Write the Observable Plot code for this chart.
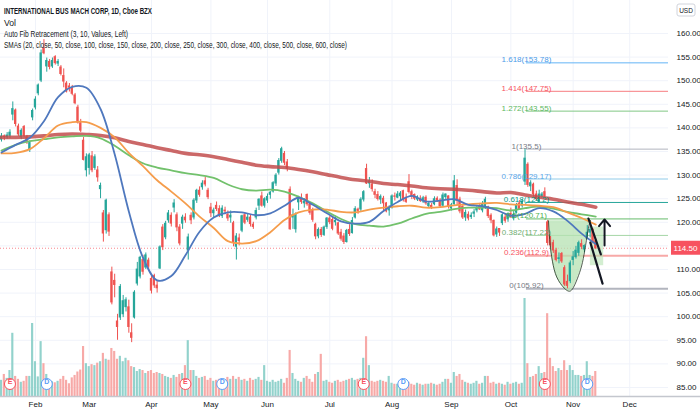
<!DOCTYPE html>
<html><head><meta charset="utf-8">
<script src="https://cdn.jsdelivr.net/npm/d3@7"></script>
<script src="https://cdn.jsdelivr.net/npm/@observablehq/plot@0.6"></script>
<style>
html,body{margin:0;padding:0;background:#fff;}
#chart{position:relative;width:700px;height:413px;overflow:hidden;}
#chart svg{position:absolute;left:0;top:0;}
</style></head><body><div id="chart"></div>
<script>
// ---- daily candles, trading-day index 0 = 2020-01-15 ----
const open = [137.5,138.2,138.0,138.3,142.8,143.7,140.3,138.0,140.2,138.0,135.4,142.2,144.3,147.3,150.0,156.8,153.0,154.0,153.0,155.0,153.6,152.8,151.0,149.4,148.8,148.4,146.9,144.3,141.0,137.3,
131.0,131.5,134.0,131.5,131.0,127.0,121.9,118.3,121.5,109.4,107.6,99.0,99.8,100.5,102.0,102.0,96.5,99.8,107.0,108.5,112.0,110.4,111.9,108.0,108.6,106.6,110.2,118.9,116.8,120.4,
121.4,123.1,121.5,118.9,119.7,121.0,114.0,121.4,121.0,124.6,126.7,127.4,128.7,126.7,123.1,121.9,123.5,122.8,121.3,122.5,121.6,121.0,119.8,114.8,116.6,118.2,121.5,120.5,121.0,119.5,
121.0,123.5,125.5,123.5,124.6,125.8,126.5,128.2,130.5,133.0,134.5,132.7,126.9,121.0,118.5,124.2,125.1,124.0,125.8,123.8,122.5,119.5,117.0,118.4,117.3,119.0,120.8,120.5,120.0,119.8,
117.8,117.0,115.8,118.4,117.7,121.0,122.7,122.7,124.8,131.3,128.2,128.0,126.4,125.8,124.8,125.0,124.0,122.5,123.1,125.5,125.2,125.5,126.6,125.2,128.5,126.4,125.8,124.8,125.0,124.4,
125.2,123.4,123.5,123.8,125.0,124.6,123.5,125.3,125.5,122.9,123.8,127.7,124.8,123.3,121.0,121.6,121.1,121.8,122.5,123.3,122.5,123.4,123.2,121.4,120.3,117.4,118.6,119.8,121.0,120.6,
121.8,120.8,122.0,124.0,123.5,128.6,132.2,127.6,128.0,125.9,124.3,125.5,126.4,120.0,116.8,115.6,114.0,112.2,113.3,110.3,107.4,107.5,112.0,112.6,113.5,115.4,114.2,116.5,117.8,118.4,116.0];
const high = [138.8,138.5,139.0,139.6,145.5,144.0,140.8,139.8,140.5,138.4,137.2,144.0,146.6,149.3,156.5,158.7,154.8,154.5,154.8,155.3,154.5,153.2,152.5,149.8,149.4,149.0,147.3,144.8,141.8,138.0,
134.5,134.6,135.0,134.3,131.8,128.3,122.5,124.9,122.0,110.5,109.0,100.5,106.8,104.5,104.0,103.5,98.5,105.5,111.5,112.8,113.0,113.5,112.4,108.5,109.0,107.5,115.0,119.5,120.2,122.5,
122.0,124.8,122.0,119.5,121.5,121.8,117.5,122.0,125.0,127.0,127.5,128.8,129.5,127.2,124.0,123.0,124.3,123.5,123.5,123.2,122.4,122.4,120.2,117.6,117.5,121.5,121.9,121.8,121.5,120.0,
123.0,125.0,126.4,125.2,126.0,126.5,128.6,130.3,133.5,135.9,135.0,133.3,127.5,122.8,122.0,125.5,126.0,125.0,126.0,124.0,123.0,119.8,118.8,118.9,119.2,121.0,121.2,121.3,121.3,120.0,
118.5,117.6,118.5,119.5,121.0,123.3,123.0,125.2,126.7,132.3,129.5,129.0,127.0,126.5,125.8,125.5,124.2,123.5,125.8,126.2,126.5,126.5,126.8,126.0,130.1,126.8,126.0,125.6,125.6,125.5,
125.6,124.4,124.0,125.4,125.4,125.0,126.2,126.0,125.6,124.0,129.9,129.0,125.3,123.5,122.6,122.2,122.0,122.7,123.5,124.0,124.4,125.3,123.4,121.8,120.5,119.0,118.6,121.8,121.7,122.0,
123.0,122.4,124.0,124.6,124.8,135.5,132.6,128.8,128.3,126.6,126.8,126.3,127.3,120.4,117.0,116.2,114.5,113.5,113.6,110.8,108.8,111.8,113.8,114.9,116.0,116.3,115.2,119.3,119.0,118.6,116.4];
const low = [137.0,137.3,137.6,137.8,141.5,140.2,138.2,137.5,137.9,136.5,134.8,141.5,143.8,146.8,149.6,155.5,151.8,152.3,152.6,153.3,153.0,151.0,148.5,147.4,147.6,146.8,144.9,140.8,139.0,133.0,
129.6,130.0,130.5,131.0,128.5,125.0,115.8,117.5,117.0,102.5,104.0,95.0,99.2,99.8,101.0,96.5,94.5,99.5,106.5,108.0,108.8,110.0,109.8,104.8,106.0,105.0,110.0,114.0,116.3,119.8,
119.0,122.0,118.0,115.0,118.5,119.8,112.0,119.5,120.5,124.0,125.3,126.8,127.5,124.8,121.0,120.8,122.3,121.0,120.8,121.6,120.2,119.8,114.8,112.0,115.0,117.8,119.5,120.0,119.0,118.5,
120.5,122.5,123.2,123.0,124.0,124.9,126.2,127.6,130.0,132.5,132.0,130.7,118.3,118.5,117.7,122.5,123.8,123.0,123.4,121.5,120.0,116.3,116.5,116.8,117.0,118.5,119.5,118.2,119.2,117.2,
116.0,115.3,115.6,117.0,117.5,120.7,121.7,122.3,124.3,128.0,127.2,126.4,125.0,124.5,123.8,122.4,122.0,121.3,122.8,124.5,125.0,124.5,124.3,124.0,126.0,124.8,124.6,124.4,124.2,124.0,
123.6,123.0,122.7,123.5,124.2,123.0,123.3,124.8,122.8,122.4,123.6,123.5,121.8,120.6,120.2,120.3,120.6,121.0,122.0,122.5,122.0,122.7,120.8,119.7,116.9,116.8,117.0,119.3,119.8,120.0,
120.8,120.3,121.8,122.5,123.0,127.8,127.4,126.5,125.3,124.5,124.0,125.0,125.1,115.0,114.7,113.4,111.6,111.2,111.3,106.4,105.92,107.0,110.8,112.2,112.8,114.2,113.6,116.3,116.7,115.4,114.2];
const close = [138.2,138.0,138.4,139.0,144.0,140.8,138.6,139.4,138.3,137.0,136.8,143.6,146.0,149.0,155.8,155.8,154.2,152.9,154.2,153.7,154.0,151.4,149.8,147.7,148.5,147.2,145.2,141.1,139.4,133.2,
133.8,134.2,131.0,133.8,129.5,127.7,117.6,124.6,118.0,103.0,106.7,97.8,106.3,103.3,103.5,97.8,95.5,105.1,110.0,112.5,109.5,113.0,110.6,105.5,106.6,106.0,114.7,114.7,119.7,121.9,
119.7,124.0,118.9,115.5,121.0,120.4,116.8,120.4,124.6,126.7,125.8,128.2,128.0,125.3,121.9,122.5,122.8,121.6,122.9,122.3,120.8,121.4,115.6,117.0,116.0,121.3,119.9,121.0,119.6,119.0,
122.4,124.8,123.5,124.9,125.4,126.3,128.3,129.9,133.0,135.5,132.6,131.3,118.5,121.5,121.6,125.0,124.3,124.4,123.8,122.0,120.5,117.0,118.4,117.3,118.9,120.8,120.0,118.6,120.3,117.6,
116.5,115.8,118.2,117.5,120.3,122.8,122.4,124.8,126.4,128.2,128.7,127.0,125.8,124.9,125.4,124.0,122.3,122.9,125.5,125.4,125.9,126.1,124.9,124.3,126.4,125.4,125.0,125.3,124.5,125.1,
124.0,123.9,123.2,124.9,124.6,123.4,125.7,125.9,123.3,123.6,128.7,124.5,122.3,121.0,122.0,120.8,121.4,122.1,123.0,122.7,123.9,124.8,121.3,120.4,117.2,118.5,117.8,121.5,120.3,121.7,
121.1,121.6,123.6,122.8,124.4,133.5,127.9,128.3,125.9,124.9,125.9,125.9,125.5,115.6,115.1,114.0,112.0,112.4,111.7,106.8,106.5,111.3,112.6,114.0,115.6,114.8,115.0,117.8,118.4,115.8,114.5];
// volume, millions of shares
const volume = [3.3,4.5,3.7,5.3,12.9,4.1,3.5,2.9,3.1,4.1,4.1,14.9,7.1,4.0,11.2,6.7,4.5,3.2,3.0,2.8,3.1,3.5,4.1,3.3,2.6,3.8,4.3,5.0,5.4,10.2,
6.7,6.1,6.5,6.3,6.8,7.1,8.8,7.6,7.4,9.8,9.2,7.6,8.2,7.1,7.8,7.3,6.1,5.9,5.1,5.5,5.3,4.7,5.1,5.3,4.7,4.9,4.7,4.5,4.1,3.9,
3.7,4.3,3.9,4.5,4.7,6.3,11.4,5.3,5.3,4.1,3.7,3.9,4.1,3.3,3.7,3.1,3.3,3.5,3.5,3.3,3.9,3.5,4.1,3.5,3.9,3.3,3.5,3.1,3.7,3.3,
3.5,3.9,3.3,6.3,3.1,2.9,3.3,2.9,3.1,3.5,2.7,3.7,9.4,4.7,3.5,3.1,2.9,3.7,4.1,3.5,2.9,4.5,4.9,8.6,3.1,3.3,2.9,2.7,3.1,3.3,
2.9,3.1,3.3,3.5,3.7,3.3,3.5,3.7,7.8,12.2,6.3,3.1,2.9,3.1,3.3,3.1,2.9,4.1,2.7,2.5,2.5,2.7,2.3,2.7,2.9,2.5,2.3,2.7,2.5,2.3,
2.5,2.5,2.7,2.5,2.3,2.5,2.9,3.5,3.5,2.7,4.9,4.1,4.5,3.3,2.9,2.7,2.5,2.7,3.1,2.5,2.7,4.1,4.1,2.7,2.9,2.5,2.7,2.5,2.3,2.9,
2.5,2.7,2.9,2.5,2.7,20.0,6.7,3.9,4.1,4.5,6.1,4.7,4.9,16.9,7.8,6.1,5.1,5.7,5.3,7.3,5.3,6.3,5.3,4.3,4.3,4.1,4.3,7.1,4.3,4.1,5.1];

const smaDays = [0,5,10,15,20,25,30,35,40,45,50,55,60,65,70,75,80,85,90,95,100,105,110,115,120,125,130,135,140,145,150,155,160,165,170,175,180,185,190,195,200,205,210];
const sma20 = [134.8,136.4,137.9,141.4,146.5,148.7,148.5,144.0,134.4,122.3,112.5,107.7,108.6,113.0,118.0,121.0,122.1,122.1,121.5,121.9,123.5,125.2,123.7,121.9,120.2,119.7,120.1,122.4,124.3,125.6,124.4,124.6,124.9,123.7,123.4,122.6,121.4,121.8,123.0,122.3,120.3,117.6,115.4];
const sma50 = [134.6,134.7,135.5,137.8,140.5,141.2,141.2,140.0,138.0,134.7,131.9,128.9,126.5,124.0,121.2,118.8,116.0,115.5,116.0,117.9,120.5,122.1,122.7,122.7,122.2,122.1,122.7,123.1,123.4,123.5,123.1,123.2,123.6,123.8,124.0,124.1,123.8,123.7,123.5,123.2,122.1,120.9,119.5];
const sma100 = [135.2,136.4,137.2,137.6,138.0,138.2,138.3,137.8,136.2,134.2,132.5,131.6,131.0,130.4,130.0,129.4,128.0,127.0,126.7,126.9,126.5,125.4,124.0,122.3,120.7,119.6,119.3,119.1,119.7,120.8,121.8,122.2,122.8,123.1,123.1,123.0,122.5,123.0,123.3,122.9,122.2,121.7,121.2];
const sma200 = [138.0,138.0,138.1,138.3,138.6,138.7,138.6,138.4,137.9,137.1,136.5,135.8,135.2,134.6,134.3,133.9,133.3,132.7,132.1,131.8,131.6,131.2,130.7,130.1,129.5,129.0,128.7,128.2,128.0,127.7,127.3,127.1,127.0,126.8,126.5,126.2,126.3,125.8,125.3,124.9,124.3,123.8,123.2];

// auto fib retracement
const fibRatio = ["1.618","1.414","1.272","1","0.786","0.618","0.5","0.382","0.236","0"];
const fibPrice = [153.78,147.75,143.55,135.5,129.17,124.2,120.71,117.22,112.9,105.92];
const fibLine = ["#64b5f6","#f77c80","#81c784","#b2b5be","#90cbe9","#26a69a","#66bb6a","#a5d6a7","#f7a9a7","#b2b5be"];
const fibText = ["#4c9be8","#f7525f","#5cb85f","#787b86","#5aa6e6","#089981","#4caf50","#6fae72","#f7525f","#787b86"];
const fibWidth = [1,1,1,1,1,1,1,1,2,2];
const fibStartDay = 185.5;

// earnings / dividends
const eventDay = [3,65,128,192,16,78,142,207];
const eventType = ["E","E","E","E","D","D","D","D"];

// axis labels
const priceTicks = [85,90,95,100,105,110,115,120,125,130,135,140,145,150,155,160];
const monthDays = [12,31,53,74,94,116,138,159,180,202,222];
const monthNames = ["Feb","Mar","Apr","May","Jun","Jul","Aug","Sep","Oct","Nov","Dec"];
const lastPrice = 114.50;

// drawings: cup arc, two trend strokes, up arrow
const cupDay = [193.3,193.9,195.0,196.8,200.0,202.1,203.9,205.3,206.4,207.4,208.1];
const cupPrice = [120.3,115.1,110.8,107.7,105.5,106.2,108.7,111.5,115.1,118.7,120.4];
const cupTop = 120.3;
const cupExtraDay = [208.1,212.8], cupExtraPrice = [110.8,119.0];
const strokeA = [[207.4,120.8],[211.8,113.2]];
const strokeB = [[208.1,115.7],[212.4,107.0]];
const arrowUp = {x1:213.1,y1:115.1,x2:213.1,y2:120.6};

// ---- build tables ----
const candles = close.map((c,i)=>({i, o:open[i], h:high[i], l:low[i], c, v:volume[i], up:c>=open[i]}));
const smaRows = smaDays.map((d,k)=>({d, s20:sma20[k], s50:sma50[k], s100:sma100[k], s200:sma200[k]}));
const fibs = fibRatio.map((r,k)=>({r, p:fibPrice[k], label:`${r}(${fibPrice[k]})`, lc:fibLine[k], tc:fibText[k], w:fibWidth[k]}));
const events = eventDay.map((d,k)=>({d, t:eventType[k], col: eventType[k]==="E" ? "#f7525f" : "#5b9cf6"}));
const cup = cupDay.map((d,k)=>({d, p:cupPrice[k]}));
const labelTicks = priceTicks.filter(t => Math.abs(t - lastPrice) > 1.5); // the price tag hides the nearest label

const UP="#26a69a", DN="#ef5350";
const W=700, H=413, MR=32, MB=17;
const xDomain=[-0.35,235.7], yDomain=[83.09,166.99];
const FONT="'Liberation Sans', Arial, sans-serif";
const base = {width:W, height:H, marginLeft:0, marginTop:0, marginRight:MR, marginBottom:MB};

const host = document.getElementById("chart");

// layer 1: grid + axis labels
const gridPlot = Plot.plot({...base,
  style:{background:"white", fontFamily:FONT, fontSize:"8px"},
  x:{domain:xDomain, axis:null}, y:{domain:yDomain, axis:null},
  marks:[
    Plot.ruleY(priceTicks, {stroke:"#f0f3fa"}),
    Plot.ruleX(monthDays, {stroke:"#f0f3fa"}),
    Plot.text(labelTicks, {y:d=>d, text:d=>d.toFixed(2), frameAnchor:"right", textAnchor:"start", dx:8, fill:"#131722", fontSize:8}),
    Plot.text(monthDays, {x:d=>d, text:(d,k)=>monthNames[k], frameAnchor:"bottom", dy:10, fill:"#131722", fontSize:8})
  ]});
host.appendChild(gridPlot);

// layer 2: volume
const volPlot = Plot.plot({...base,
  style:{background:"transparent", fontFamily:FONT},
  x:{domain:xDomain, axis:null}, y:{domain:[0,20], range:[H-MB, H-MB-98], axis:null},
  marks:[
    Plot.rectY(candles, {x1:d=>d.i-0.38, x2:d=>d.i+0.38, y:"v", fill:d=>d.up?"#92d2cc":"#f7a9a7"}),
    Plot.dot(events, {x:"d", frameAnchor:"bottom", dy:-12.5, r:5.5, fill:"white", stroke:"col", strokeWidth:1}),
    Plot.text(events, {x:"d", text:"t", frameAnchor:"bottom", dy:-12.5, fill:"col", fontSize:7, fontWeight:"bold"})
  ]});
host.appendChild(volPlot);

// layer 3: price
const pricePlot = Plot.plot({...base,
  style:{background:"transparent", fontFamily:FONT, overflow:"visible"},
  x:{domain:xDomain, axis:null}, y:{domain:yDomain, axis:null},
  marks:[
    Plot.ruleY([lastPrice], {stroke:"#f7525f", strokeOpacity:0.7, strokeDasharray:"1,2"}),
    Plot.ruleY(fibs, {y:"p", x1:()=>fibStartDay, x2:()=>xDomain[1], stroke:"lc", strokeWidth:"w"}),
    Plot.areaY(cup, {x:"d", y1:()=>cupTop, y2:"p", fill:"#b5e2b2", fillOpacity:0.75, curve:"natural"}),
    Plot.rect([0], {x1:()=>cupExtraDay[0], x2:()=>cupExtraDay[1], y1:()=>cupExtraPrice[0], y2:()=>cupExtraPrice[1], fill:"#b5e2b2", fillOpacity:0.6}),
    Plot.ruleX(candles, {x:"i", y1:"l", y2:"h", stroke:d=>d.up?UP:DN, strokeWidth:1}),
    Plot.rect(candles, {x1:d=>d.i-0.4, x2:d=>d.i+0.4, y1:"o", y2:"c", fill:d=>d.up?UP:DN, insetTop:-0.4, insetBottom:-0.4}),
    Plot.line(smaRows, {x:"d", y:"s200", stroke:"#c24d4d", strokeOpacity:0.85, strokeWidth:3.6, curve:"catmull-rom"}),
    Plot.line(smaRows, {x:"d", y:"s100", stroke:"#72c16c", strokeWidth:1.8, curve:"catmull-rom"}),
    Plot.line(smaRows, {x:"d", y:"s50", stroke:"#f59d4c", strokeWidth:1.8, curve:"catmull-rom"}),
    Plot.line(smaRows, {x:"d", y:"s20", stroke:"#4f78be", strokeWidth:1.8, curve:"catmull-rom"}),
    Plot.text(fibs, {x:()=>fibStartDay, y:"p", text:"label", fill:"tc", fontSize:8, lineAnchor:"bottom", dy:-0.5}),
    Plot.line(cup, {x:"d", y:"p", stroke:"#223322", strokeWidth:0.8, curve:"natural"}),
    Plot.line(strokeA, {stroke:"#131722", strokeWidth:2.2}),
    Plot.line(strokeB, {stroke:"#131722", strokeWidth:2.2}),
    Plot.arrow([arrowUp], {x1:"x1", y1:"y1", x2:"x2", y2:"y2", stroke:"#131722", strokeWidth:2, headAngle:80, headLength:11})
  ]});
host.appendChild(pricePlot);

// overlay texts and price tag
const svg = d3.select(pricePlot);
const yS = pricePlot.scale("y");
const yp = yS.apply(lastPrice);
svg.append("line").attr("x1",0).attr("x2",W).attr("y1",H-MB+0.5).attr("y2",H-MB+0.5).attr("stroke","#c4c7ce").attr("stroke-width",1.5);
svg.append("rect").attr("x",W-MR+3).attr("y",yp-7).attr("width",MR-3).attr("height",14).attr("fill","#f7525f");
svg.append("text").attr("x",W-MR+3+(MR-3)/2).attr("y",yp+3).attr("text-anchor","middle").attr("fill","white").attr("font-size",8).attr("font-family",FONT).text(lastPrice.toFixed(2));
svg.append("rect").attr("x",677).attr("y",4).attr("width",18).attr("height",12).attr("rx",2).attr("fill","white").attr("stroke","#d1d4dc");
svg.append("text").attr("x",686).attr("y",12.5).attr("text-anchor","middle").attr("fill","#131722").attr("font-size",6.5).attr("font-family",FONT).text("USD");
const titles = [
  {t:"INTERNATIONAL BUS MACH CORP, 1D, Cboe BZX", y:13.5, w:148, fw:"bold"},
  {t:"Vol", y:25.5, w:12, fw:"normal"},
  {t:"Auto Fib Retracement (3, 10, Values, Left)", y:36.5, w:124, fw:"normal"},
  {t:"SMAs (20, close, 50, close, 100, close, 150, close, 200, close, 250, close, 300, close, 400, close, 500, close, 600, close)", y:47.5, w:343, fw:"normal"}
];
titles.forEach(o=>{
  svg.append("text").attr("x",4).attr("y",o.y).attr("text-anchor","start").attr("fill","#131722").attr("font-size",8.5).attr("font-weight",o.fw)
    .attr("font-family",FONT).attr("textLength",o.w).attr("lengthAdjust","spacingAndGlyphs").text(o.t);
});
</script></body></html>
